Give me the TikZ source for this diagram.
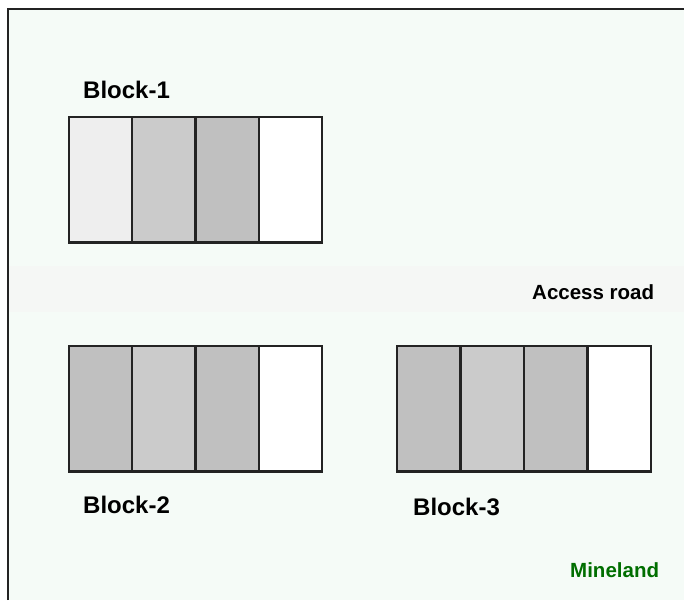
\documentclass[tikz,border=0pt]{standalone}
\usepackage{fontspec}
\setmainfont{Liberation Sans}
\definecolor{mineland}{RGB}{245,251,247}
\definecolor{road}{RGB}{245,247,245}
\definecolor{lightcell}{RGB}{238,238,238}
\definecolor{dotcell}{RGB}{203,203,203}
\definecolor{midcell}{RGB}{192,192,192}
\definecolor{framec}{RGB}{35,35,35}
\definecolor{minegreen}{RGB}{0,110,0}
\tikzset{
  cell/.style={draw=framec, line width=2.2pt, minimum width=63.4pt, minimum height=125.5pt, anchor=north west, inner sep=0pt, outer sep=0pt},
  blocklabel/.style={font=\bfseries\fontsize{24}{28}\selectfont, anchor=base west, inner sep=0pt},
  maplabel/.style={font=\bfseries\fontsize{20.5}{24}\selectfont, anchor=base west, inner sep=0pt}
}
\begin{document}
\begin{tikzpicture}[x=1pt,y=-1pt]
\useasboundingbox (0,0) rectangle (684,600);
\fill[white] (0,0) rectangle (684,600);
\fill[mineland] (7.5,8.5) rectangle (684,600);
\fill[road] (9,266) rectangle (684,312);
\draw[framec, line width=2pt] (7.5,600) -- (7.5,8.5) -- (684,8.5);
% Block-1
\node[cell, fill=lightcell] (a1) at (69,117) {};
\node[cell, fill=dotcell] (a2) at (132.25,117) {};
\node[cell, fill=midcell] (a3) at (195.5,117) {};
\node[cell, fill=white] (a4) at (258.75,117) {};
% Block-2
\node[cell, fill=midcell] (b1) at (69,346) {};
\node[cell, fill=dotcell] (b2) at (132.25,346) {};
\node[cell, fill=midcell] (b3) at (195.5,346) {};
\node[cell, fill=white] (b4) at (258.75,346) {};
% Block-3
\node[cell, fill=midcell] (c1) at (397,346) {};
\node[cell, fill=dotcell] (c2) at (460.5,346) {};
\node[cell, fill=midcell] (c3) at (524,346) {};
\node[cell, fill=white] (c4) at (587.5,346) {};
% labels
\node[blocklabel] (l1) at (83,98) {Block-1};
\node[blocklabel] (l2) at (83,513) {Block-2};
\node[blocklabel] (l3) at (413,515) {Block-3};
\node[maplabel] (road) at (532,299) {Access road};
\node[maplabel, text=minegreen] (mine) at (570,577) {Mineland};
\end{tikzpicture}
\end{document}
